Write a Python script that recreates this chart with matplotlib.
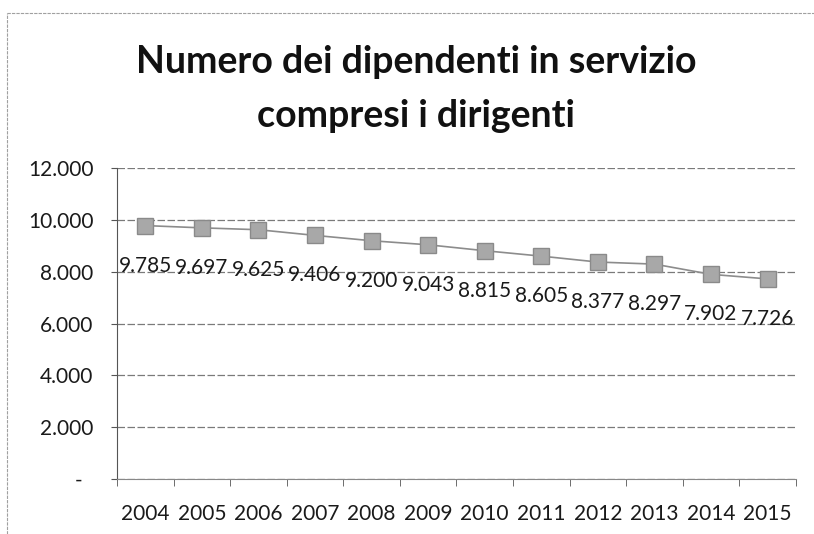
import matplotlib.pyplot as plt
from matplotlib.lines import Line2D

years = ['2004', '2005', '2006', '2007', '2008', '2009',
         '2010', '2011', '2012', '2013', '2014', '2015']
dipendenti = [9785, 9697, 9625, 9406, 9200, 9043,
              8815, 8605, 8377, 8297, 7902, 7726]
y_ticks = [0, 2000, 4000, 6000, 8000, 10000, 12000]
y_labels = ['-  ', '2.000', '4.000', '6.000', '8.000', '10.000', '12.000']

plt.rcParams['font.family'] = ['Lato', 'DejaVu Sans']

fig = plt.figure(figsize=(8.14, 5.34), dpi=100)
ax = fig.add_axes([0.1437, 0.103, 0.834, 0.582])

# chart border (top and left edges visible in the scan)
fig.lines.append(Line2D([0.009, 0.009], [0.0, 0.976], transform=fig.transFigure,
                        color='#a0a0a0', linewidth=0.8, linestyle=(0, (3, 1))))
fig.lines.append(Line2D([0.009, 1.0], [0.976, 0.976], transform=fig.transFigure,
                        color='#a0a0a0', linewidth=0.8, linestyle=(0, (3, 1))))

x = list(range(len(years)))
ax.plot(x, dipendenti, color='#8c8c8c', linewidth=1.2, marker='s', markersize=12,
        markerfacecolor='#a8a8a8', markeredgecolor='#8a8a8a', zorder=3)

# data labels below the markers
for xi, v in zip(x, dipendenti):
    lab = f"{v:,}".replace(',', '.')
    ax.annotate(lab, (xi, v), xytext=(0, -40), textcoords='offset pixels',
                ha='center', va='center', fontsize=15, color='#1a1a1a')

ax.set_xlim(-0.5, 11.5)
ax.set_ylim(0, 12000)
ax.set_yticks(y_ticks)
ax.set_yticklabels(y_labels, fontsize=15, color='#1a1a1a')
ax.set_xticks(x)
ax.set_xticklabels(years, fontsize=15, color='#1a1a1a')
ax.set_xticks([i - 0.5 for i in range(len(years) + 1)], minor=True)
ax.tick_params(axis='x', which='major', length=0, pad=18)
ax.tick_params(axis='x', which='minor', length=5, color='#555555')
ax.tick_params(axis='y', length=4, color='#555555', pad=13)

ax.grid(axis='y', color='#7a7a7a', linewidth=0.9, linestyle=(0, (6, 2)))
ax.set_axisbelow(True)
for side in ['top', 'right']:
    ax.spines[side].set_visible(False)
ax.spines['left'].set_color('#555555')
ax.spines['bottom'].set_color('#888888')

fig.text(0.511, 0.8633, 'Numero dei dipendenti in servizio',
         ha='center', va='baseline', fontsize=27, fontweight='bold', color='#111111')
fig.text(0.511, 0.7622, 'compresi i dirigenti',
         ha='center', va='baseline', fontsize=27, fontweight='bold', color='#111111')

plt.savefig('out.png', dpi=100)
